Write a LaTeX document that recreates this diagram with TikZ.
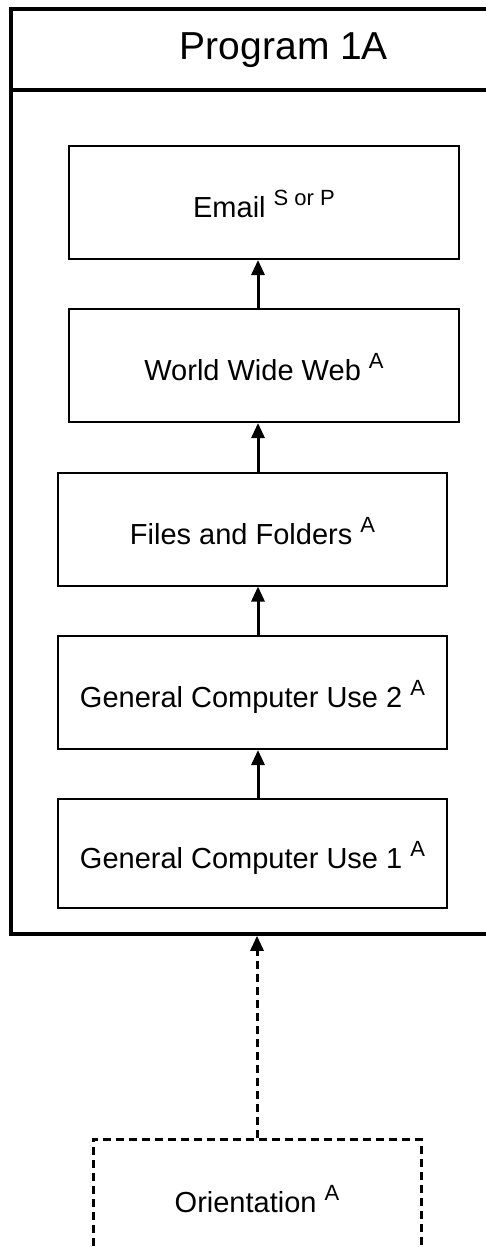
\documentclass[tikz,border=0pt]{standalone}
\usepackage{fontspec}
\setmainfont{Liberation Sans}
\usetikzlibrary{arrows.meta}
% raised, smaller mark after a stage name
\newcommand{\hi}[1]{\smash{\raisebox{12pt}{\fontsize{22}{22}\selectfont #1}}}
\begin{document}
\begin{tikzpicture}[x=1pt,y=-1pt,
  stage/.style={draw=black, line width=2pt, inner sep=0pt,
    font=\fontsize{29}{34}\selectfont, text height=30pt, text depth=0pt,
    minimum height=113pt},
  wide/.style={stage, minimum width=390pt},
  narrow/.style={stage, minimum width=389pt},
  flow/.style={line width=3pt, -{Triangle[width=13pt,length=15pt]}},
  dashline/.style={line width=3pt, dash pattern=on 8pt off 5pt}]
  \useasboundingbox (0,0) rectangle (486,1247);
  \clip (0,0) rectangle (486,1247);

  % program container with its title band
  \node[draw=black, line width=3.5pt, minimum width=546pt, minimum height=925pt, inner sep=0pt]
    (prog) at (284,471.5) {};
  \coordinate (band) at (0,90);
  \draw[line width=3.5pt] (prog.west |- band) -- (prog.east |- band);
  \node[font=\fontsize{39}{44}\selectfont, inner sep=0pt] (title) at (284,50) {Program 1A};

  % stages of the program
  \node[wide]   (email) at (264,202.5) {Email \hi{S or P}};
  \node[wide]   (www)   at (264,365.5) {World Wide Web \hi{A}};
  \node[narrow] (files) at (252.5,529) {Files and Folders \hi{A}};
  \node[narrow] (gcu2)  at (252.5,692.5) {General Computer Use 2 \hi{A}};
  \node[narrow, minimum height=109pt] (gcu1) at (252.5,853.5) {General Computer Use 1 \hi{A}};

  % optional entry stage
  \node[stage, dashline, minimum width=328pt, minimum height=116pt] (orient) at (257,1197)
    {Orientation \hi{A}};

  % progression arrows
  \coordinate (spine) at (258,0);
  \draw[flow] (spine |- gcu1.north)  -- (spine |- gcu2.south);
  \draw[flow] (spine |- gcu2.north)  -- (spine |- files.south);
  \draw[flow] (spine |- files.north) -- (spine |- www.south);
  \draw[flow] (spine |- www.north)   -- (spine |- email.south);
  \draw[dashline, -{Triangle[width=13pt,length=15pt]}] (orient.north) -- (orient.north |- prog.south);
\end{tikzpicture}
\end{document}
